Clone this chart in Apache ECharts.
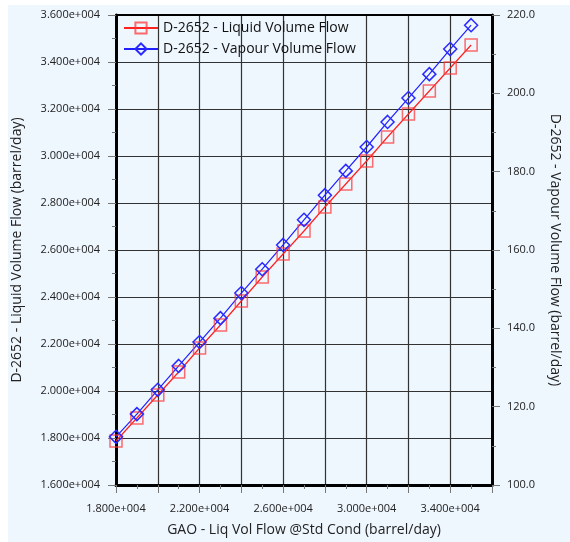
<!DOCTYPE html>
<html><head><meta charset="utf-8">
<script src="https://cdn.jsdelivr.net/npm/echarts@6/dist/echarts.min.js"></script>
<style>
html,body{margin:0;padding:0;background:#fff;}
#panel{position:absolute;left:8px;top:5px;width:562px;height:537px;background:#eef6fe;}
#c{position:absolute;left:0;top:0;width:570px;height:542px;}
</style></head>
<body><div id="panel"></div><div id="c"></div>
<script>
const gaoFlow = [18000,19000,20000,21000,22000,23000,24000,25000,26000,27000,28000,29000,30000,31000,32000,33000,34000,35000];
const liquidFlow = [17872,18851,19830,20809,21830,22809,23830,24851,25830,26809,27830,28809,29787,30809,31787,32766,33745,34723];
const vapourFlow = [112.3,118.1,124.3,130.4,136.5,142.6,149.0,155.1,161.3,167.7,174.0,180.2,186.3,192.7,198.8,204.9,211.3,217.4];
const seriesNames = ['D-2652 - Liquid Volume Flow','D-2652 - Vapour Volume Flow'];

function sci(v){
  if(v===0) return '0.000e+000';
  const e = Math.floor(Math.log10(Math.abs(v)) + 1e-9);
  const m = v/Math.pow(10,e);
  return m.toFixed(3)+'e'+(e<0?'-':'+')+String(Math.abs(e)).padStart(3,'0');
}
const font = 'Open Sans, Noto Sans, sans-serif';
const chart = echarts.init(document.getElementById('c'));
chart.setOption({
  animation:false,
  grid:{left:116,right:66,top:15,bottom:57},
  legend:{
    left:118,top:16,orient:'vertical',itemGap:7,itemWidth:34,itemHeight:14,
    textStyle:{fontFamily:font,fontSize:14,color:'#111'},
    data:seriesNames
  },
  xAxis:[{
    type:'value',min:18000,max:36000,interval:2000,position:'bottom',
    name:'GAO - Liq Vol Flow @Std Cond (barrel/day)',nameLocation:'middle',nameGap:38,
    nameTextStyle:{fontFamily:font,fontSize:14,color:'#222'},
    axisLine:{show:true,onZero:false,lineStyle:{color:'#000',width:3}},
    axisTick:{show:true,length:8,lineStyle:{color:'#777',width:1}},
    minorTick:{show:true,splitNumber:2,length:4,lineStyle:{color:'#777',width:1}},
    axisLabel:{fontFamily:font,fontSize:11,color:'#222',margin:18,formatter:function(v){return ((v-18000)%4000===0 && v<36000)?sci(v):'';}},
    splitLine:{show:true,showMinLine:true,showMaxLine:true,lineStyle:{color:'#333',width:1.2,type:'solid',opacity:1}}
  },{
    type:'value',min:18000,max:36000,interval:2000,position:'top',
    axisLine:{show:true,onZero:false,lineStyle:{color:'#000',width:2}},
    axisTick:{show:false},axisLabel:{show:false},splitLine:{show:false}
  }],
  yAxis:[{
    type:'value',min:16000,max:36000,interval:2000,position:'left',
    name:'D-2652 - Liquid Volume Flow (barrel/day)',nameLocation:'middle',nameGap:92,
    nameTextStyle:{fontFamily:font,fontSize:14,color:'#222'},
    axisLine:{show:true,onZero:false,lineStyle:{color:'#000',width:3}},
    axisTick:{show:true,length:8,lineStyle:{color:'#777',width:1}},
    minorTick:{show:true,splitNumber:2,length:4,lineStyle:{color:'#777',width:1}},
    axisLabel:{fontFamily:font,fontSize:11,color:'#222',margin:16,formatter:sci},
    splitLine:{show:true,lineStyle:{color:'#333',width:1.2,type:'solid',opacity:1}}
  },{
    type:'value',min:100,max:220,interval:20,position:'right',
    name:'D-2652 - Vapour Volume Flow (barrel/day)',nameLocation:'middle',nameGap:56,nameRotate:-90,
    nameTextStyle:{fontFamily:font,fontSize:14,color:'#222'},
    axisLine:{show:true,onZero:false,lineStyle:{color:'#000',width:3}},
    axisTick:{show:true,length:8,lineStyle:{color:'#777',width:1}},
    minorTick:{show:true,splitNumber:2,length:4,lineStyle:{color:'#777',width:1}},
    axisLabel:{fontFamily:font,fontSize:11,color:'#222',margin:15,formatter:function(v){return v.toFixed(1);}},
    splitLine:{show:false}
  }],
  series:[{
    name:seriesNames[0],type:'line',xAxisIndex:0,yAxisIndex:0,
    data:gaoFlow.map((x,i)=>[x,liquidFlow[i]]),
    symbol:'rect',symbolSize:12,showAllSymbol:true,
    lineStyle:{color:'#ff2020',width:1.2},
    itemStyle:{color:'rgba(255,255,255,0)',borderColor:'rgba(255,60,60,0.75)',borderWidth:1.5},
    color:'#ff2020'
  },{
    name:seriesNames[1],type:'line',xAxisIndex:0,yAxisIndex:1,
    data:gaoFlow.map((x,i)=>[x,vapourFlow[i]]),
    symbol:'diamond',symbolSize:13,showAllSymbol:true,
    lineStyle:{color:'#2020ff',width:1.2},
    itemStyle:{color:'rgba(255,255,255,0)',borderColor:'#2a2aff',borderWidth:1.5},
    color:'#2020ff'
  }]
});
</script></body></html>
